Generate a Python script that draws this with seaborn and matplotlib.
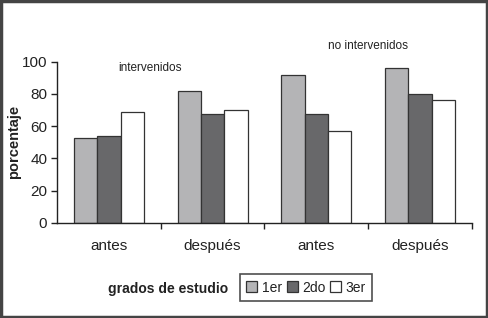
import matplotlib
matplotlib.use("Agg")
import matplotlib.pyplot as plt
import seaborn as sns
import pandas as pd
from matplotlib.patches import Rectangle

# ---- data ----
groups = ["int_antes", "int_despues", "noint_antes", "noint_despues"]
tick_labels = ["antes", "después", "antes", "después"]
grades = ["1er", "2do", "3er"]
v_1er = [52.5, 82, 92, 96]
v_2do = [54, 67.5, 67.5, 80]
v_3er = [69, 70, 57, 76]
colors = ["#b4b4b6", "#68686a", "#ffffff"]

rows = []
for g, a, b, c in zip(groups, v_1er, v_2do, v_3er):
    rows += [(g, "1er", a), (g, "2do", b), (g, "3er", c)]
df = pd.DataFrame(rows, columns=["grupo", "grado", "porcentaje"])

sns.set_style("white")
plt.rcParams["font.family"] = ["Liberation Sans", "DejaVu Sans"]
txt = "#222222"

fig = plt.figure(figsize=(4.89, 3.18), dpi=100)
ax = fig.add_axes([57/489, 1-222.7/318, (472-57)/489, (222.7-61.7)/318])

sns.barplot(data=df, x="grupo", y="porcentaje", hue="grado", order=groups,
            hue_order=grades, palette=colors, width=0.675,
            edgecolor="#333333", linewidth=0.9, ax=ax, legend=False)

ax.set_xlim(-0.5, 3.5)
ax.set_ylim(0, 100)
ax.set_yticks([0, 20, 40, 60, 80, 100])
ax.set_xticks(range(4))
ax.set_xticklabels(tick_labels)
ax.set_xticks([0.5, 1.5, 2.5, 3.5], minor=True)
ax.tick_params(axis="x", which="major", length=0, pad=12, labelsize=11, colors=txt)
ax.tick_params(axis="x", which="minor", length=4, width=1, color="#222222", direction="out", bottom=True)
ax.tick_params(axis="y", length=4, width=1, direction="out", left=True, labelsize=11,
               colors=txt, color="#222222", pad=3)
ax.set_xlabel("")
ax.set_ylabel("porcentaje", fontsize=10.5, fontweight="bold", color=txt)
ax.yaxis.set_label_coords(-0.086, 0.5)
for s in ["top", "right"]:
    ax.spines[s].set_visible(False)
for s in ["left", "bottom"]:
    ax.spines[s].set_color("#222222")
    ax.spines[s].set_linewidth(1)

ax.text(0.4, 96, "intervenidos", ha="center", va="center", fontsize=8.5, color=txt)
ax.text(2.5, 109.5, "no intervenidos", ha="center", va="center", fontsize=8.5,
        color=txt, clip_on=False)

handles = [Rectangle((0, 0), 1, 1, facecolor=c, edgecolor="#333333", linewidth=0.9)
           for c in colors]
leg = fig.legend(handles, grades, loc="center", bbox_to_anchor=(306/489, 1-287.5/318),
                 ncol=3, frameon=True, fancybox=False, fontsize=10,
                 handlelength=0.8, handleheight=0.8, handletextpad=0.3,
                 columnspacing=0.35, borderpad=0.45, borderaxespad=0)
leg.get_frame().set_edgecolor("#222222")
leg.get_frame().set_linewidth(1.2)
for t in leg.get_texts():
    t.set_color(txt)
fig.text(228/489, 1-289/318, "grados de estudio", ha="right", va="center",
         fontsize=10, fontweight="bold", color=txt)

fig.patches.append(Rectangle((0.003, 0.004), 0.993, 0.992, transform=fig.transFigure,
                             fill=False, edgecolor="#444444", linewidth=2.5))

fig.savefig("out.png", dpi=100, facecolor="white")
